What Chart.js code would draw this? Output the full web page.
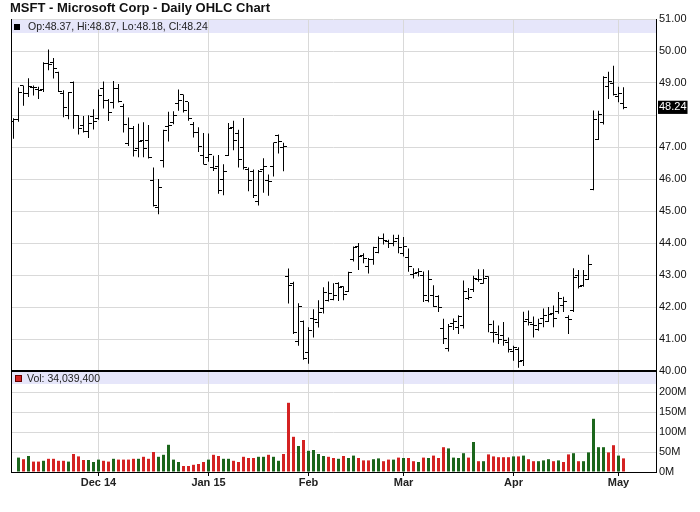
<!DOCTYPE html>
<html>
<head>
<meta charset="utf-8">
<title>MSFT - Daily OHLC Chart</title>
<script src="https://cdn.jsdelivr.net/npm/chart.js@4.4.1/dist/chart.umd.min.js"></script>
<style>
  html, body { margin: 0; padding: 0; background: #fff; }
  #wrap { position: relative; width: 700px; height: 512px; }
  #title {
    position: absolute; left: 10px; top: 0px;
    font: bold 13px "Liberation Sans", Arial, sans-serif;
    line-height: 16px; color: #111;
  }
  canvas { position: absolute; left: 0; top: 0; }
</style>
</head>
<body>
<div id="wrap">
  <canvas id="chart" width="700" height="512"></canvas>
  <div id="title">MSFT - Microsoft Corp - Daily OHLC Chart</div>
</div>
<script>
// ================= DATA =================

// trading calendar (weekdays minus exchange holidays)
const firstDay = "2014-11-05";
const lastDay = "2015-05-04";
const holidays = ["2014-11-27", "2014-12-25", "2015-01-01", "2015-01-19", "2015-02-16", "2015-04-03"];

const tickMonths = ["2014-12", "2015-01", "2015-02", "2015-03", "2015-04", "2015-05"];
const tickLabels = ["Dec 14", "Jan 15", "Feb", "Mar", "Apr", "May"];

const priceTicks = [40, 41, 42, 43, 44, 45, 46, 47, 48, 49, 50, 51];
const volumeTicks = [0, 50, 100, 150, 200];

const opens = [
  47.80, 47.86, 48.92, 48.68, 48.85, 48.80, 48.80, 49.60, 49.65, 49.34,
  48.66, 48.00, 49.02, 47.99, 47.66, 47.49, 47.95, 47.88, 48.84, 48.44,
  48.39, 48.82, 48.26, 47.11, 47.58, 46.96, 47.20, 47.20, 45.95, 45.10,
  46.58, 47.63, 47.78, 48.37, 48.64, 48.41, 47.70, 47.44, 46.73, 46.66,
  46.37, 46.38, 45.98, 46.75, 47.61, 47.42, 46.97, 46.30, 46.22, 45.31,
  46.30, 45.94, 46.38, 47.36, 47.00, 42.95, 42.74, 40.93, 41.55, 40.59,
  41.63, 41.53, 41.95, 42.21, 42.24, 42.74, 42.65, 42.50, 43.50, 43.90,
  43.62, 43.27, 43.50, 43.70, 44.15, 44.05, 43.99, 44.13, 43.67, 43.56,
  43.01, 43.07, 43.00, 42.19, 42.35, 42.32, 41.33, 40.70, 41.47, 41.37,
  41.43, 42.26, 42.56, 42.85, 42.74, 42.95, 41.20, 41.13, 41.10, 40.90,
  40.60, 40.66, 40.34, 41.61, 41.46, 41.30, 41.63, 41.55, 41.80, 41.85,
  42.04, 41.67, 41.90, 43.00, 42.67, 42.85, 45.66, 47.23, 47.78, 48.90,
  48.98, 48.58, 48.37
];

const highs = [
  47.90, 48.86, 48.92, 49.15, 48.92, 48.88, 49.65, 50.05, 49.78, 49.35,
  48.77, 48.72, 49.05, 48.00, 47.97, 47.99, 48.18, 48.80, 49.05, 48.50,
  49.06, 48.97, 48.35, 47.92, 47.66, 47.73, 47.77, 47.69, 46.36, 46.00,
  47.54, 48.10, 48.12, 48.80, 48.64, 48.41, 47.78, 47.62, 47.44, 47.42,
  46.73, 46.75, 46.46, 47.75, 47.82, 47.54, 47.91, 46.36, 46.30, 46.28,
  46.65, 46.14, 47.14, 47.39, 47.13, 43.20, 42.79, 42.12, 41.58, 41.37,
  41.93, 42.21, 42.62, 42.80, 42.74, 42.77, 42.65, 43.10, 43.89, 44.00,
  43.68, 43.53, 43.88, 44.20, 44.30, 44.10, 44.26, 44.26, 44.19, 43.83,
  43.21, 43.21, 43.11, 43.15, 42.68, 42.37, 41.63, 41.47, 41.64, 41.74,
  42.83, 42.59, 42.98, 43.18, 43.18, 42.96, 41.58, 41.42, 41.53, 41.05,
  40.79, 40.74, 41.85, 41.89, 41.70, 41.63, 41.95, 42.00, 42.05, 42.47,
  42.32, 41.74, 43.21, 43.16, 43.16, 43.63, 48.14, 48.13, 49.21, 49.35,
  49.54, 48.88, 48.87
];

const lows = [
  47.26, 47.79, 48.29, 48.56, 48.61, 48.50, 48.72, 49.40, 49.14, 48.72,
  47.93, 47.87, 47.57, 47.39, 47.45, 47.28, 47.55, 47.85, 48.20, 47.81,
  48.20, 48.39, 47.45, 47.03, 46.70, 46.68, 46.68, 46.64, 45.14, 44.90,
  46.36, 47.17, 47.71, 48.13, 48.08, 47.82, 47.30, 46.84, 46.45, 46.54,
  46.25, 45.54, 45.49, 46.72, 46.90, 46.36, 46.30, 45.62, 45.41, 45.17,
  45.57, 45.48, 46.08, 46.80, 46.24, 42.11, 41.16, 40.79, 40.35, 40.23,
  41.05, 41.36, 41.80, 42.17, 42.21, 42.19, 42.21, 42.47, 43.42, 43.16,
  43.37, 43.05, 43.32, 43.68, 43.95, 43.84, 43.90, 43.68, 43.58, 43.10,
  42.89, 42.95, 42.16, 42.15, 42.00, 41.84, 40.84, 40.61, 41.28, 41.16,
  41.33, 42.22, 42.47, 42.79, 42.73, 41.21, 40.89, 40.84, 40.79, 40.58,
  40.32, 40.10, 40.16, 41.42, 41.05, 41.26, 41.37, 41.53, 41.37, 41.79,
  41.84, 41.16, 41.84, 42.58, 42.63, 42.84, 45.65, 47.22, 47.70, 48.50,
  48.61, 48.40, 48.18
];

const closes = [
  47.86, 48.70, 48.68, 48.89, 48.87, 48.78, 49.61, 49.58, 49.46, 48.74,
  48.22, 48.70, 47.98, 47.59, 47.47, 47.75, 47.81, 48.62, 48.46, 48.08,
  48.84, 48.42, 47.70, 47.59, 46.90, 47.17, 46.95, 46.67, 45.16, 45.74,
  47.52, 47.66, 47.98, 48.45, 48.14, 47.88, 47.45, 47.02, 46.45, 46.76,
  46.33, 45.65, 46.23, 47.59, 47.19, 46.60, 46.36, 45.96, 45.48, 46.24,
  46.39, 45.92, 47.13, 47.18, 47.01, 42.66, 41.19, 42.01, 40.40, 41.28,
  41.60, 41.84, 42.45, 42.41, 42.36, 42.60, 42.38, 43.09, 43.87, 43.58,
  43.53, 43.50, 43.86, 44.15, 44.09, 43.99, 44.06, 43.85, 43.88, 43.28,
  43.06, 43.11, 42.36, 42.85, 42.03, 41.98, 41.02, 41.38, 41.56, 41.70,
  42.50, 42.29, 42.88, 42.86, 42.90, 41.46, 41.21, 40.97, 40.96, 40.66,
  40.72, 40.29, 41.55, 41.53, 41.42, 41.48, 41.72, 41.76, 41.65, 42.26,
  42.16, 41.62, 42.91, 42.64, 42.99, 43.34, 47.87, 48.03, 49.16, 49.06,
  48.64, 48.66, 48.24
];

// volume in millions of shares
const volumes = [
  null, 36, 32, 40, 26, 26, 28, 33, 33, 28,
  28, 26, 45, 39, 30, 30, 25, 31, 28, 26,
  33, 31, 31, 31, 33, 33, 38, 33, 50, 38,
  43, 68, 31, 25, 15, 15, 18, 20, 25, 31,
  43, 40, 33, 33, 28, 25, 38, 35, 35, 38,
  38, 43, 38, 28, 45, 173, 88, 65, 80, 53,
  55, 45, 40, 38, 35, 33, 40, 35, 41, 35,
  29, 29, 32, 34, 27, 31, 31, 36, 35, 35,
  27, 25, 36, 35, 41, 35, 62, 59, 36, 35,
  47, 36, 75, 27, 27, 44, 39, 37, 37, 37,
  39, 39, 41, 32, 27, 27, 29, 32, 27, 29,
  25, 44, 47, 27, 27, 49, 133, 62, 62, 49,
  67, 41, 34.0394
];

// ================= DERIVED =================

const days = [];
for (let d = new Date(firstDay + "T12:00:00Z"); d <= new Date(lastDay + "T12:00:00Z"); d.setUTCDate(d.getUTCDate() + 1)) {
  const s = d.toISOString().slice(0, 10);
  const wd = d.getUTCDay();
  if (wd !== 0 && wd !== 6 && !holidays.includes(s)) days.push(s);
}
if (days.length !== closes.length) console.warn("calendar mismatch", days.length, closes.length);

const tickIdx = tickMonths.map(m => days.findIndex(d => d.startsWith(m)));

const last = closes.length - 1;
const lastClose = closes[last];
const yTicks = priceTicks.concat([lastClose]).sort((a, b) => a - b);

const GRID = "#d9d9d9";
const UP = "#1c661c";
const DOWN = "#d42222";
const volColors = closes.map((c, i) => (i > 0 && c > closes[i - 1]) ? UP : DOWN);

// little horizontal marks for open (left) and close (right)
function tickMark(side) {
  const c = document.createElement("canvas");
  c.width = 7;
  c.height = 1;
  const g = c.getContext("2d");
  g.fillStyle = "#000";
  g.fillRect(side === "left" ? 0 : 4, 0, 3, 1);
  return c;
}

// ================= BANDS / LEGENDS =================

const panelBands = {
  id: "panelBands",
  beforeDraw(chart) {
    const { ctx, chartArea: a, scales } = chart;
    const p = scales.price, v = scales.vol;
    ctx.save();
    ctx.fillStyle = "#e6e6fa";
    ctx.fillRect(a.left, p.top + 1, a.width, 13);
    ctx.fillRect(a.left, v.top + 1, a.width, 12);
    ctx.restore();
  },
  beforeDatasetsDraw(chart) {
    const { ctx, chartArea: a, scales } = chart;
    const p = scales.price, v = scales.vol;
    ctx.save();
    ctx.font = '10.5px "Liberation Sans", Arial, sans-serif';
    ctx.textBaseline = "middle";
    ctx.textAlign = "left";

    ctx.fillStyle = "#000";
    ctx.fillRect(a.left + 3, p.top + 5, 6, 6);
    ctx.fillStyle = "#222";
    ctx.fillText(
      `Op:${opens[last].toFixed(2)}, Hi:${highs[last].toFixed(2)}, Lo:${lows[last].toFixed(2)}, Cl:${closes[last].toFixed(2)}`,
      a.left + 17, p.top + 8
    );

    ctx.fillStyle = DOWN;
    ctx.fillRect(a.left + 4, v.top + 4, 7, 7);
    ctx.strokeStyle = "#600";
    ctx.lineWidth = 1;
    ctx.strokeRect(a.left + 4.5, v.top + 4.5, 6, 6);
    ctx.fillStyle = "#222";
    ctx.fillText(
      `Vol: ${Math.round(volumes[last] * 1e6).toLocaleString("en-US")}`,
      a.left + 16, v.top + 8
    );
    ctx.restore();
  }
};

// ================= CHART =================

Chart.defaults.font.family = '"Liberation Sans", Arial, sans-serif';
Chart.defaults.font.size = 11;
Chart.defaults.color = "#111";

new Chart(document.getElementById("chart"), {
  type: "scatter",
  data: {
    datasets: [
      {
        type: "bar",
        label: "High-Low",
        yAxisID: "price",
        data: days.map((d, i) => ({ x: i, y: [lows[i], highs[i]] })),
        backgroundColor: "#000",
        barThickness: 1,
        inflateAmount: 0,
        grouped: false
      },
      {
        type: "scatter",
        label: "Open",
        yAxisID: "price",
        data: days.map((d, i) => ({ x: i, y: opens[i] })),
        pointStyle: tickMark("left"),
        pointRadius: 3
      },
      {
        type: "scatter",
        label: "Close",
        yAxisID: "price",
        data: days.map((d, i) => ({ x: i, y: closes[i] })),
        pointStyle: tickMark("right"),
        pointRadius: 3
      },
      {
        type: "bar",
        label: "Volume",
        yAxisID: "vol",
        data: days.map((d, i) => ({ x: i, y: volumes[i] })),
        backgroundColor: volColors,
        barThickness: 3,
        inflateAmount: 0,
        grouped: false
      }
    ]
  },
  options: {
    responsive: false,
    animation: false,
    events: [],
    layout: { padding: { left: 11, top: 19, right: 0, bottom: 0 } },
    plugins: { legend: { display: false }, tooltip: { enabled: false } },
    scales: {
      x: {
        type: "linear",
        min: -0.5,
        max: 128.5,
        offset: false,
        afterBuildTicks: s => { s.ticks = tickIdx.map(v => ({ value: v })); },
        afterFit: s => { s.height = 40; },
        grid: { color: GRID, offset: false, drawTicks: true, tickLength: 4, tickColor: "#000" },
        border: { display: true, color: "#000" },
        ticks: {
          autoSkip: false,
          maxRotation: 0,
          padding: 0,
          color: "#222",
          font: { weight: "bold", size: 11 },
          callback: v => tickLabels[tickIdx.indexOf(v)] ?? ""
        }
      },
      frame: {
        type: "linear",
        position: "left",
        min: 0,
        max: 1,
        afterFit: s => { s.width = 0; },
        grid: { display: false },
        ticks: { display: false },
        border: { display: true, color: "#000" }
      },
      price: {
        type: "linear",
        position: "right",
        stack: "panes",
        stackWeight: 352,
        weight: 1,
        min: 40,
        max: 51,
        afterBuildTicks: s => { s.ticks = yTicks.map(v => ({ value: v })); },
        afterFit: s => { s.width = 44; },
        grid: {
          drawTicks: false,
          color: c => c.tick.value === 40 ? "#000" : (c.tick.value === lastClose ? "rgba(0,0,0,0)" : GRID),
          lineWidth: c => c.tick.value === 40 ? 2 : 1
        },
        border: { color: "#000" },
        ticks: {
          autoSkip: false,
          padding: 3,
          color: c => c.tick.value === lastClose ? "#fff" : "#111",
          showLabelBackdrop: c => c.tick.value === lastClose,
          backdropColor: "#000",
          backdropPadding: { x: 1, y: 0 },
          callback: v => v === 48 ? "" : v.toFixed(2)
        }
      },
      vol: {
        type: "linear",
        position: "right",
        stack: "panes",
        stackWeight: 101,
        weight: 2,
        min: 0,
        max: 252.5,
        afterBuildTicks: s => { s.ticks = volumeTicks.map(v => ({ value: v })); },
        afterFit: s => { s.width = 44; },
        grid: {
          drawTicks: false,
          color: c => c.tick.value === 0 ? "rgba(0,0,0,0)" : GRID
        },
        border: { color: "#000" },
        ticks: {
          autoSkip: false,
          padding: 3,
          callback: v => v + "M"
        }
      }
    }
  },
  plugins: [panelBands]
});
</script>
</body>
</html>
